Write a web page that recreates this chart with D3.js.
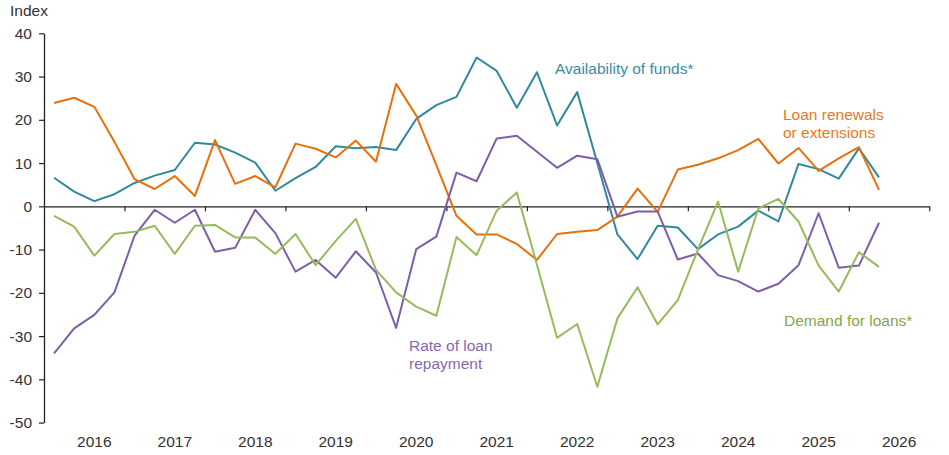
<!DOCTYPE html>
<html>
<head>
<meta charset="utf-8">
<script src="https://cdn.jsdelivr.net/npm/d3@7"></script>
<style>
  body { margin: 0; background: #fff; }
  text { font-family: "Liberation Sans", Arial, sans-serif; }
</style>
</head>
<body>
<div id="chart"></div>
<script>
// year labels on the x axis, four quarters each
const years = [2016, 2017, 2018, 2019, 2020, 2021, 2022, 2023, 2024, 2025, 2026];
const yTicks = [-50, -40, -30, -20, -10, 0, 10, 20, 30, 40];

// quarterly index values, 2016 Q1 onward
const availability = [6.6, 3.4, 1.2, 2.8, 5.4, 7.1, 8.4, 14.7, 14.3, 12.4, 10.1, 3.6, 6.5, 9.1, 13.9, 13.4,
  13.7, 13.0, 20.2, 23.4, 25.3, 34.4, 31.3, 22.8, 31.0, 18.7, 26.4, 10.0, -6.5, -12.2, -4.5, -4.9,
  -9.9, -6.5, -4.7, -1.0, -3.5, 9.8, 8.6, 6.4, 13.4, 6.7];
const renewals = [23.9, 25.1, 23.0, 14.9, 6.3, 4.0, 7.0, 2.4, 15.3, 5.2, 7.0, 4.4, 14.5, 13.3, 11.3, 15.2,
  10.3, 28.3, 21.0, 9.5, -2.2, -6.5, -6.5, -8.7, -12.4, -6.4, -5.9, -5.5, -2.4, 4.1, -1.3, 8.5,
  9.6, 11.1, 13.0, 15.6, 9.9, 13.5, 8.2, 11.1, 13.7, 3.8];
const repayment = [-34.0, -28.2, -25.1, -19.9, -6.8, -0.8, -3.8, -0.8, -10.5, -9.6, -0.8, -6.2, -15.1, -12.4, -16.5, -10.4,
  -15.3, -28.1, -9.9, -7.0, 7.8, 5.8, 15.7, 16.3, 12.6, 8.9, 11.7, 10.9, -2.4, -1.2, -1.2, -12.3,
  -10.9, -15.9, -17.3, -19.7, -17.9, -13.6, -1.6, -14.2, -13.7, -3.8];
const demand = [-2.2, -4.7, -11.4, -6.4, -5.9, -4.5, -11.0, -4.5, -4.3, -7.2, -7.2, -11.0, -6.4, -13.6, -8.0, -2.9,
  -14.7, -19.9, -23.2, -25.3, -7.1, -11.3, -1.0, 3.2, -13.5, -30.4, -27.2, -41.7, -25.9, -18.7, -27.3, -21.7,
  -10.0, 1.1, -15.1, -0.5, 1.7, -3.5, -13.7, -19.7, -10.6, -14.0];

const series = [
  {name: ["Availability of funds*"], values: availability, color: "#2f8a9c", text: "#3a8ea1", lx: 555, ly: 74},
  {name: ["Loan renewals", "or extensions"], values: renewals, color: "#e8700c", text: "#e97820", lx: 783, ly: 120},
  {name: ["Rate of loan", "repayment"], values: repayment, color: "#7c5ea9", text: "#8768b1", lx: 409, ly: 351},
  {name: ["Demand for loans*"], values: demand, color: "#97bb5b", text: "#83a64c", lx: 784, ly: 326}
];

const width = 949;
const height = 455;
const margin = {top: 33.3, right: 19.7, bottom: 32.4, left: 44};

const nSlots = years.length * 4;

const xScale = d3.scaleLinear()
    .domain([-0.5, nSlots - 0.5])
    .range([margin.left, width - margin.right]);

const yScale = d3.scaleLinear()
    .domain([-50, 40])
    .range([height - margin.bottom, margin.top]);

const svg = d3.select("#chart").append("svg")
    .attr("width", width)
    .attr("height", height)
    .attr("viewBox", [0, 0, width, height]);

// y axis (plain hyphen for negatives, like the original)
const yAxis = svg.append("g")
    .attr("transform", `translate(${margin.left},0)`)
    .call(d3.axisLeft(yScale).tickValues(yTicks).tickSize(5).tickSizeOuter(0).tickPadding(7)
      .tickFormat(d => String(d)));
yAxis.select(".domain").attr("stroke", "#222").attr("stroke-width", 1.3);
yAxis.selectAll(".tick line").attr("stroke", "#222").attr("stroke-width", 1.2);
yAxis.selectAll(".tick text").attr("fill", "#333").style("font-size", "15.5px");

svg.append("text")
    .attr("x", 10)
    .attr("y", 16)
    .attr("fill", "#333")
    .style("font-size", "15.5px")
    .text("Index");

// x axis along zero, ticks between years
const boundaries = years.map((d, i) => (i + 1) * 4 - 0.5);
const xAxis = svg.append("g")
    .attr("transform", `translate(0,${yScale(0)})`)
    .call(d3.axisBottom(xScale).tickValues(boundaries).tickSize(5).tickSizeOuter(0).tickFormat(""));
xAxis.select(".domain").attr("stroke", "#222").attr("stroke-width", 1.3);
xAxis.selectAll(".tick line").attr("stroke", "#222").attr("stroke-width", 1.2);

svg.append("g")
  .selectAll("text")
  .data(years)
  .enter()
  .append("text")
    .attr("x", (d, i) => xScale(i * 4 + 2))
    .attr("y", 447)
    .attr("text-anchor", "middle")
    .attr("fill", "#333")
    .style("font-size", "15.5px")
    .text(d => d);

// lines
const lineFunc = d3.line()
  .x((d, i) => xScale(i))
  .y(d => yScale(d));

svg.append("g")
  .selectAll("path")
  .data(series)
  .enter()
  .append("path")
    .attr("d", d => lineFunc(d.values))
    .attr("fill", "none")
    .attr("stroke", d => d.color)
    .attr("stroke-width", 2)
    .attr("stroke-linejoin", "round");

// series labels
series.forEach(s => {
  const t = svg.append("text")
    .attr("x", s.lx)
    .attr("y", s.ly)
    .attr("fill", s.text)
    .style("font-size", "15.5px");
  s.name.forEach((line, k) => {
    t.append("tspan")
      .attr("x", s.lx)
      .attr("dy", k === 0 ? 0 : 17.5)
      .text(line);
  });
});
</script>
</body>
</html>
